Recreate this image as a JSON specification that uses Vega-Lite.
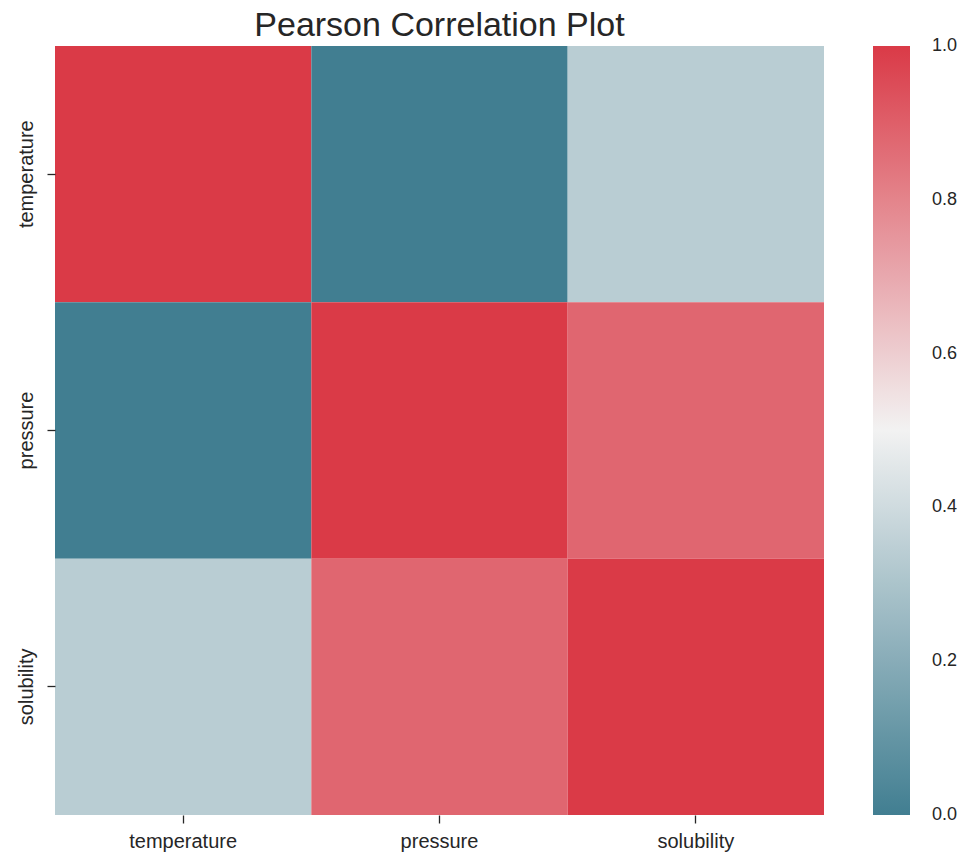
{
  "$schema": "https://vega.github.io/schema/vega-lite/v6.json",
  "autosize": "none",
  "width": 769,
  "height": 769,
  "padding": {"left": 55, "top": 46, "right": 140, "bottom": 41},
  "background": "white",
  "title": {
    "text": "Pearson Correlation Plot",
    "font": "Liberation Sans",
    "fontSize": 34,
    "fontWeight": "normal",
    "color": "#262626",
    "anchor": "middle",
    "offset": 3
  },
  "data": {
    "values": [
      {"row": "temperature", "col": "temperature", "r": 1.0},
      {"row": "temperature", "col": "pressure", "r": 0.0},
      {"row": "temperature", "col": "solubility", "r": 0.34},
      {"row": "pressure", "col": "temperature", "r": 0.0},
      {"row": "pressure", "col": "pressure", "r": 1.0},
      {"row": "pressure", "col": "solubility", "r": 0.88},
      {"row": "solubility", "col": "temperature", "r": 0.34},
      {"row": "solubility", "col": "pressure", "r": 0.88},
      {"row": "solubility", "col": "solubility", "r": 1.0}
    ]
  },
  "mark": {"type": "rect", "strokeWidth": 0},
  "encoding": {
    "x": {
      "field": "col",
      "type": "nominal",
      "sort": ["temperature", "pressure", "solubility"],
      "scale": {"paddingInner": 0, "paddingOuter": 0},
      "axis": {
        "title": null,
        "domain": false,
        "labelAngle": 0,
        "labelFont": "Liberation Sans",
        "labelFontSize": 20,
        "labelColor": "#262626",
        "tickColor": "#262626",
        "tickSize": 8,
        "tickWidth": 1.3,
        "labelPadding": 8
      }
    },
    "y": {
      "field": "row",
      "type": "nominal",
      "sort": ["temperature", "pressure", "solubility"],
      "scale": {"paddingInner": 0, "paddingOuter": 0},
      "axis": {
        "title": null,
        "domain": false,
        "labelAngle": -90,
        "labelAlign": "center",
        "labelBaseline": "bottom",
        "labelFont": "Liberation Sans",
        "labelFontSize": 20,
        "labelColor": "#262626",
        "tickColor": "#262626",
        "tickSize": 8,
        "tickWidth": 1.3,
        "labelPadding": 11
      }
    },
    "color": {
      "field": "r",
      "type": "quantitative",
      "scale": {
        "domain": [0, 0.5, 1],
        "range": ["#417e91", "#f2f2f2", "#da3a47"],
        "interpolate": "rgb"
      },
      "legend": {
        "title": null,
        "orient": "right",
        "offset": 49,
        "gradientLength": 769,
        "gradientThickness": 37,
        "gradientStrokeWidth": 0,
        "values": [0, 0.2, 0.4, 0.6, 0.8, 1.0],
        "format": ".1f",
        "labelFont": "Liberation Sans",
        "labelFontSize": 18,
        "labelColor": "#262626",
        "labelOffset": 22,
        "labelOverlap": false,
        "encode": {
          "labels": {
            "update": {"baseline": {"value": "middle"}}
          }
        }
      }
    }
  },
  "config": {"view": {"stroke": null}}
}
